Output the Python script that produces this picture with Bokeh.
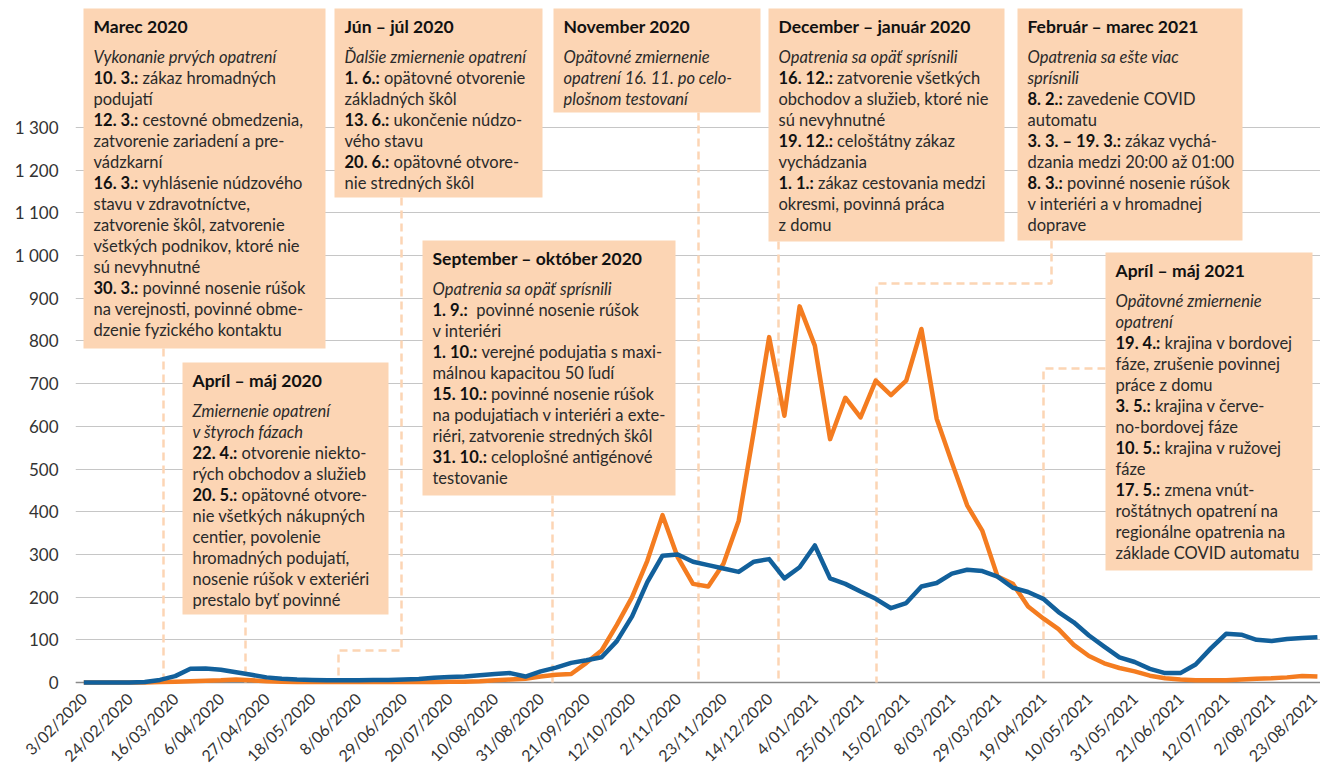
import struct, subprocess
from bokeh.plotting import figure
from bokeh.models import FixedTicker, Span, Range1d
from bokeh.core.properties import value
from bokeh.embed import file_html
from bokeh.resources import INLINE

# ---------------- data ----------------
# weekly values, 3/02/2020 ... 23/08/2021 (82 weeks)
week_index = list(range(82))
tick_positions = list(range(0, 82, 3))
tick_labels = ["3/02/2020", "24/02/2020", "16/03/2020", "6/04/2020", "27/04/2020", "18/05/2020",
               "8/06/2020", "29/06/2020", "20/07/2020", "10/08/2020", "31/08/2020", "21/09/2020",
               "12/10/2020", "2/11/2020", "23/11/2020", "14/12/2020", "4/01/2021", "25/01/2021",
               "15/02/2021", "8/03/2021", "29/03/2021", "19/04/2021", "10/05/2021", "31/05/2021",
               "21/06/2021", "12/07/2021", "2/08/2021", "23/08/2021"]
y_ticks = [0, 100, 200, 300, 400, 500, 600, 700, 800, 900, 1000, 1100, 1200, 1300]
y_tick_labels = ["0", "100", "200", "300", "400", "500", "600", "700", "800", "900",
                 "1 000", "1 100", "1 200", "1 300"]

series_blue = [0, 0, 0, 0, 1, 6, 15, 32, 33, 30, 24, 18, 12, 9, 7, 6, 5, 5, 5, 6,
               6, 7, 8, 11, 13, 14, 17, 20, 22, 14, 26, 35, 46, 52, 59, 97, 155, 235, 297, 300,
               283, 275, 267, 259, 283, 289, 244, 270, 321, 244, 231, 213, 196, 174, 186, 225, 233, 255, 264, 261,
               248, 222, 212, 196, 165, 141, 110, 84, 59, 48, 32, 22, 22, 42, 80, 114, 112, 100, 97, 102,
               104, 106]
series_orange = [0, 0, 0, 0, 0, 1, 2, 3, 4, 5, 7, 5, 3, 2, 1, 1, 1, 1, 1, 1,
                 1, 1, 1, 1, 2, 2, 3, 5, 7, 9, 14, 18, 20, 46, 75, 135, 200, 285, 392, 293,
                 231, 225, 278, 379, 590, 809, 625, 881, 789, 570, 667, 621, 707, 673, 707, 828, 618, 515, 415, 355,
                 248, 231, 178, 150, 125, 88, 62, 45, 34, 26, 16, 10, 7, 5, 5, 5, 7, 9, 10, 12,
                 15, 14]

# annotation texts: "*" = italic line, "prefix|rest" = bold prefix + normal text
box_titles = ["Marec 2020", "Jún – júl 2020", "November 2020", "December – január 2020",
              "Február – marec 2021", "Apríl – máj 2020", "September – október 2020", "Apríl – máj 2021"]
box1 = ["*Vykonanie prvých opatrení", "10. 3.:|zákaz hromadných", "podujatí",
        "12. 3.:|cestovné obmedzenia,", "zatvorenie zariadení a pre-", "vádzkarní",
        "16. 3.:|vyhlásenie núdzového", "stavu v zdravotníctve,", "zatvorenie škôl, zatvorenie",
        "všetkých podnikov, ktoré nie", "sú nevyhnutné", "30. 3.:|povinné nosenie rúšok",
        "na verejnosti, povinné obme-", "dzenie fyzického kontaktu"]
box2 = ["*Ďalšie zmiernenie opatrení", "1. 6.:|opätovné otvorenie", "základných škôl",
        "13. 6.:|ukončenie núdzo-", "vého stavu", "20. 6.:|opätovné otvore-", "nie stredných škôl"]
box3 = ["*Opätovné zmiernenie", "*opatrení 16. 11. po celo-", "*plošnom testovaní"]
box4 = ["*Opatrenia sa opäť sprísnili", "16. 12.:|zatvorenie všetkých", "obchodov a služieb, ktoré nie",
        "sú nevyhnutné", "19. 12.:|celoštátny zákaz", "vychádzania", "1. 1.:|zákaz cestovania medzi",
        "okresmi, povinná práca", "z domu"]
box5 = ["*Opatrenia sa ešte viac", "*sprísnili", "8. 2.:|zavedenie COVID", "automatu",
        "3. 3. – 19. 3.:|zákaz vychá-", "dzania medzi 20:00 až 01:00", "8. 3.:|povinné nosenie rúšok",
        "v interiéri a v hromadnej", "doprave"]
box6 = ["*Zmiernenie opatrení", "*v štyroch fázach", "22. 4.:|otvorenie niekto-",
        "rých obchodov a služieb", "20. 5.:|opätovné otvore-", "nie všetkých nákupných",
        "centier, povolenie", "hromadných podujatí,", "nosenie rúšok v exteriéri", "prestalo byť povinné"]
box7 = ["*Opatrenia sa opäť sprísnili", "1. 9.:| povinné nosenie rúšok", "v interiéri",
        "1. 10.:|verejné podujatia s maxi-", "málnou kapacitou 50 ľudí", "15. 10.:|povinné nosenie rúšok",
        "na podujatiach v interiéri a exte-", "riéri, zatvorenie stredných škôl",
        "31. 10.:|celoplošné antigénové", "testovanie"]
box8 = ["*Opätovné zmiernenie", "*opatrení", "19. 4.:|krajina v bordovej", "fáze, zrušenie povinnej",
        "práce z domu", "3. 5.:|krajina v červe-", "no-bordovej fáze", "10. 5.:|krajina v ružovej",
        "fáze", "17. 5.:|zmena vnút-", "roštátnych opatrení na", "regionálne opatrenia na",
        "základe COVID automatu"]
box_lines = [box1, box2, box3, box4, box5, box6, box7, box8]

# ---------------- layout (pixel positions in the reference picture) ----------------
box_rects = [(83, 8, 325, 348), (334, 8, 542, 197), (553, 8, 760, 112), (768, 8, 1004, 241),
             (1017, 8, 1242, 240), (182, 362, 388, 614), (422, 240, 675, 495), (1105, 252, 1312, 570)]
leader_paths = [
    [(163, 348), (163, 682)],
    [(401, 197), (401, 650), (338, 650), (338, 682)],
    [(245, 614), (245, 682)],
    [(552, 495), (552, 682)],
    [(698, 112), (698, 682)],
    [(778, 241), (778, 682)],
    [(1051, 240), (1051, 283), (876, 283), (876, 682)],
    [(1105, 368), (1043, 368), (1043, 682)],
]

K = 555 / 1300.0
RX0, RXS = 83.3, 15.23


def ry(py):
    return (682 - py) / K


def rx(px):
    return (px - RX0) / RXS


# -------- font metrics (for bold-prefix offsets) --------
def _font_path(pattern):
    try:
        r = subprocess.run(["fc-match", "-f", "%{file}", pattern], capture_output=True, text=True, timeout=10)
        return r.stdout.strip() or None
    except Exception:
        return None


class Metrics:
    def __init__(self, path, fallback=0.55):
        self.ok = False
        self.fallback = fallback
        try:
            self._load(path)
            self.ok = True
        except Exception:
            pass

    def _load(self, path):
        d = open(path, "rb").read()
        off0 = struct.unpack(">I", d[12:16])[0] if d[:4] == b"ttcf" else 0
        n = struct.unpack(">H", d[off0 + 4:off0 + 6])[0]
        t = {}
        for i in range(n):
            tag, _, off, ln = struct.unpack(">4sIII", d[off0 + 12 + 16 * i: off0 + 28 + 16 * i])
            t[tag] = off
        h = t[b"head"]
        self.upem = struct.unpack(">H", d[h + 18:h + 20])[0]
        hh = t[b"hhea"]
        nhm = struct.unpack(">H", d[hh + 34:hh + 36])[0]
        hm = t[b"hmtx"]
        self.adv = struct.unpack(">%dH" % (2 * nhm), d[hm:hm + 4 * nhm])[0::2]
        c = t[b"cmap"]
        nsub = struct.unpack(">H", d[c + 2:c + 4])[0]
        sub = None
        for i in range(nsub):
            pid, eid, off = struct.unpack(">HHI", d[c + 4 + 8 * i:c + 12 + 8 * i])
            fmt = struct.unpack(">H", d[c + off:c + off + 2])[0]
            if fmt == 4 and (pid == 0 or (pid == 3 and eid == 1)):
                sub = c + off
        self.d = d
        segx2 = struct.unpack(">H", d[sub + 6:sub + 8])[0]
        s = segx2 // 2
        self.ends = struct.unpack(">%dH" % s, d[sub + 14:sub + 14 + segx2])
        self.starts = struct.unpack(">%dH" % s, d[sub + 16 + segx2:sub + 16 + 2 * segx2])
        self.deltas = struct.unpack(">%dh" % s, d[sub + 16 + 2 * segx2:sub + 16 + 3 * segx2])
        self.ro_pos = sub + 16 + 3 * segx2
        self.ros = struct.unpack(">%dH" % s, d[self.ro_pos:self.ro_pos + segx2])

    def gid(self, ch):
        cp = ord(ch)
        for k, e in enumerate(self.ends):
            if cp <= e:
                if cp < self.starts[k]:
                    return 0
                if self.ros[k] == 0:
                    return (cp + self.deltas[k]) & 0xFFFF
                addr = self.ro_pos + 2 * k + self.ros[k] + 2 * (cp - self.starts[k])
                g = struct.unpack(">H", self.d[addr:addr + 2])[0]
                return (g + self.deltas[k]) & 0xFFFF if g else 0
        return 0

    def width(self, s, size):
        if not self.ok:
            return len(s) * size * self.fallback
        tot = 0
        for ch in s:
            g = self.gid(ch)
            tot += self.adv[min(g, len(self.adv) - 1)]
        return tot * size / self.upem


FONT = "Lato"
bold_m = Metrics(_font_path("Lato:bold"), 0.56)
reg_m = Metrics(_font_path("Lato"), 0.45)

BODY = 16.5
TITLE = 17.5
STEP = 21.0
TITLE_DY = 18   # title baseline below box top
BODY_DY = 48    # first body line baseline below box top

# ---------------- figure ----------------
FIG_W, FIG_H = 1320, 775
FRAME_LEFT, FRAME_BOTTOM = 75, 692
p = figure(width=FIG_W, height=FIG_H, output_backend="svg", toolbar_location=None,
           min_border_left=FRAME_LEFT, min_border_right=0, min_border_top=0,
           min_border_bottom=FIG_H - FRAME_BOTTOM,
           x_range=Range1d(rx(FRAME_LEFT), rx(FIG_W)), y_range=Range1d(ry(FRAME_BOTTOM), ry(0)))
p.outline_line_color = None
p.background_fill_color = "white"
p.xgrid.grid_line_color = None
p.ygrid.grid_line_color = "#c6c6c6"
p.ygrid.grid_line_width = 1

p.yaxis.ticker = FixedTicker(ticks=y_ticks)
p.yaxis.major_label_overrides = {t: l for t, l in zip(y_ticks, y_tick_labels)}
p.xaxis.ticker = FixedTicker(ticks=tick_positions)
p.xaxis.major_label_overrides = {t: l for t, l in zip(tick_positions, tick_labels)}
p.xaxis.major_label_orientation = 0.785398
for ax in (p.xaxis[0], p.yaxis[0]):
    ax.axis_line_color = None
    ax.major_tick_line_color = None
    ax.minor_tick_line_color = None
    ax.major_tick_out = 0
    ax.major_tick_in = 0
    ax.major_label_text_font = FONT
    ax.major_label_text_color = "#333333"
p.yaxis.major_label_text_font_size = "17px"
p.xaxis.major_label_text_font_size = "16px"
p.yaxis.major_label_standoff = 17
p.xaxis.major_label_standoff = 3

p.add_layout(Span(location=0, dimension="width", line_color="#8a8a8a", line_width=1.5, level="underlay"))

BOX_COLOR = "#FCD5B4"

# boxes
p.quad(left=[rx(b[0]) for b in box_rects], right=[rx(b[2]) for b in box_rects],
       top=[ry(b[1]) for b in box_rects], bottom=[ry(b[3]) for b in box_rects],
       fill_color=BOX_COLOR, line_color=None)

# leaders
p.multi_line(xs=[[rx(pt[0]) for pt in path] for path in leader_paths],
             ys=[[ry(pt[1]) for pt in path] for path in leader_paths],
             line_color=BOX_COLOR, line_width=2.5, line_dash="8 5")

# texts
tx_title, ty_title, tt_title = [], [], []
ital = dict(x=[], y=[], t=[])
norm = dict(x=[], y=[], t=[], off=[])
bold = dict(x=[], y=[], t=[])
for title, lines, rect in zip(box_titles, box_lines, box_rects):
    left, top = rect[0] + 10, rect[1]
    tx_title.append(rx(left))
    ty_title.append(ry(top + TITLE_DY))
    tt_title.append(title)
    for j, line in enumerate(lines):
        yb = ry(top + BODY_DY + STEP * j)
        if line.startswith("*"):
            ital["x"].append(rx(left)); ital["y"].append(yb); ital["t"].append(line[1:])
        elif "|" in line:
            pre, rest = line.split("|", 1)
            bold["x"].append(rx(left)); bold["y"].append(yb); bold["t"].append(pre)
            nsp = len(rest) - len(rest.lstrip(" "))
            off = bold_m.width(pre, BODY) + reg_m.width(" " * (nsp + 1), BODY)
            norm["x"].append(rx(left)); norm["y"].append(yb); norm["t"].append(rest.lstrip(" "))
            norm["off"].append(off)
        else:
            norm["x"].append(rx(left)); norm["y"].append(yb); norm["t"].append(line); norm["off"].append(0)

p.text(x=tx_title, y=ty_title, text=tt_title, text_font=value(FONT), text_font_size=value("%gpx" % TITLE),
       text_font_style=value("bold"), text_color="#111111", text_baseline="alphabetic", text_align="left")
p.text(x=ital["x"], y=ital["y"], text=ital["t"], text_font=value(FONT), text_font_size=value("%gpx" % BODY),
       text_font_style=value("italic"), text_color="#2a2a2a", text_baseline="alphabetic", text_align="left")
p.text(x=bold["x"], y=bold["y"], text=bold["t"], text_font=value(FONT), text_font_size=value("%gpx" % BODY),
       text_font_style=value("bold"), text_color="#111111", text_baseline="alphabetic", text_align="left")
p.text(x=norm["x"], y=norm["y"], text=norm["t"], x_offset=norm["off"], text_font=value(FONT),
       text_font_size=value("%gpx" % BODY), text_font_style=value("normal"), text_color="#2a2a2a",
       text_baseline="alphabetic", text_align="left")

# data lines
p.line(week_index, series_orange, line_color="#F47C20", line_width=4.5, line_join="round")
p.line(week_index, series_blue, line_color="#12609B", line_width=4.5, line_join="round")

open("out.html", "w").write(file_html(p, INLINE))
